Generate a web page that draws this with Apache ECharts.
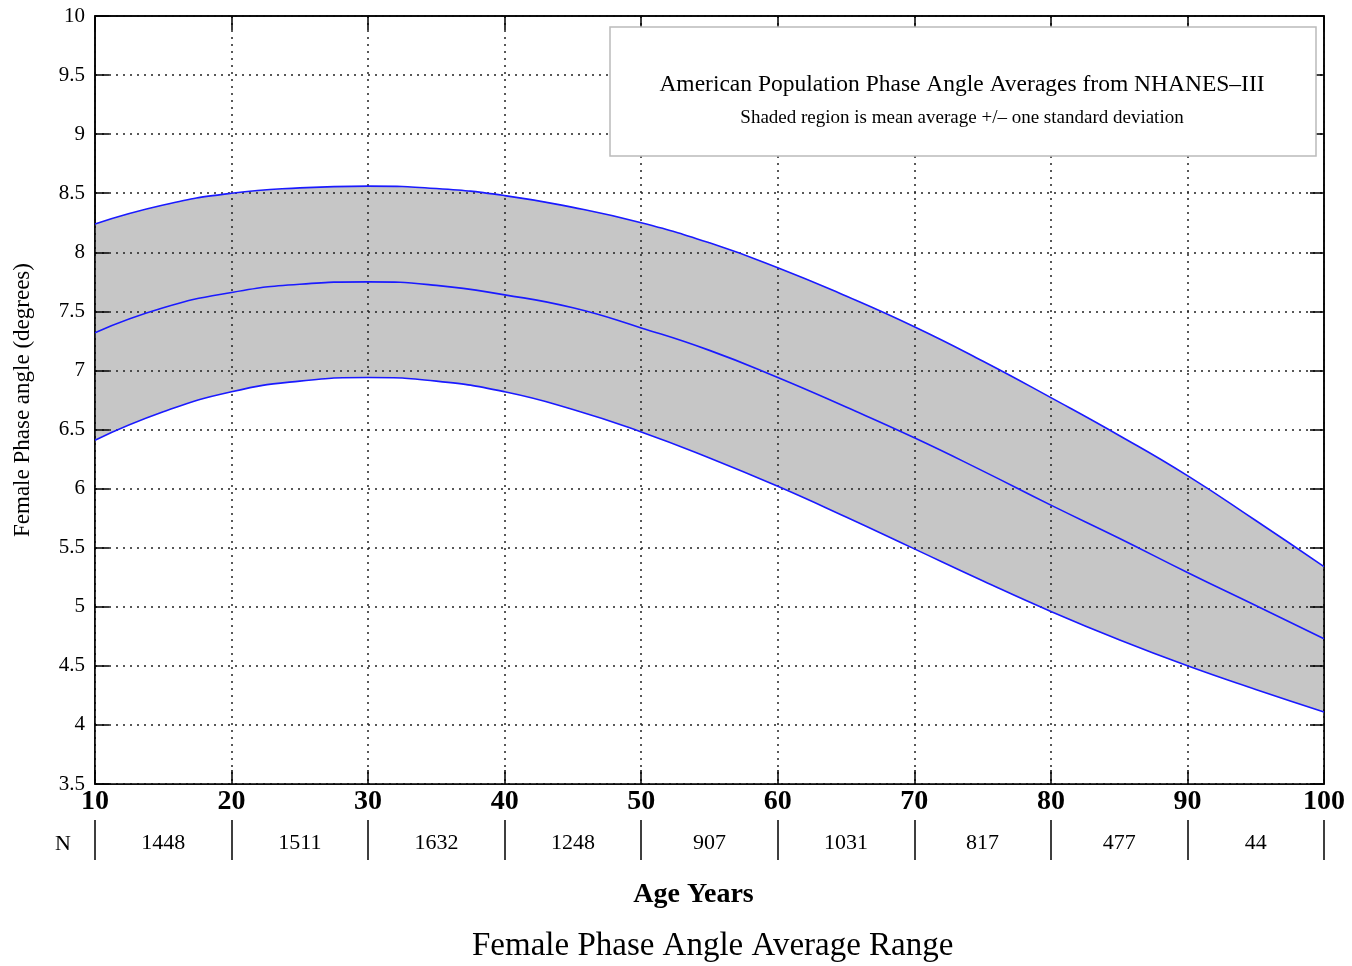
<!DOCTYPE html>
<html>
<head>
<meta charset="utf-8">
<script src="https://cdn.jsdelivr.net/npm/echarts@6/dist/echarts.min.js"></script>
<style>html,body{margin:0;padding:0;background:#fff;}#c{width:1352px;height:966px;}</style>
</head>
<body>
<div id="c"></div>
<script>
var ages    = [10, 15, 20, 25, 30, 35, 40, 45, 50, 55, 60, 65, 70, 75, 80, 85, 90, 95, 100];
var upperSD = [8.24, 8.40, 8.50, 8.545, 8.56, 8.54, 8.48, 8.38, 8.25, 8.08, 7.87, 7.63, 7.37, 7.08, 6.77, 6.45, 6.11, 5.73, 5.34];
var meanPA  = [7.32, 7.53, 7.66, 7.73, 7.75, 7.72, 7.64, 7.53, 7.36, 7.17, 6.94, 6.69, 6.43, 6.15, 5.86, 5.58, 5.29, 5.01, 4.73];
var lowerSD = [6.41, 6.65, 6.82, 6.91, 6.94, 6.91, 6.82, 6.67, 6.48, 6.26, 6.02, 5.76, 5.49, 5.22, 4.96, 4.72, 4.50, 4.30, 4.11];
var nCounts = ['1448', '1511', '1632', '1248', '907', '1031', '817', '477', '44'];
var yTicks = {min: 3.5, max: 10, step: 0.5};
var xTicks = {min: 10, max: 100, step: 10};

var FONT = '"Liberation Serif", "DejaVu Serif", serif';
function pairs(vals) { return ages.map(function (a, i) { return [a, vals[i]]; }); }

var dotted = {color: '#222', width: 1.5, type: [2, 5]};
var SM = 0.5;
var chart = echarts.init(document.getElementById('c'), null, {renderer: 'canvas'});
chart.setOption({
  animation: false,
  backgroundColor: '#fff',
  title: {
    text: 'Female Phase Angle Average Range',
    left: 467, top: 925,
    textStyle: {fontFamily: FONT, fontSize: 33, fontWeight: 'normal', color: '#000'}
  },
  grid: {left: 95, right: 28, top: 16, bottom: 182, show: true, borderColor: '#000', borderWidth: 1.5, backgroundColor: 'transparent'},
  xAxis: [
    {
      type: 'value', min: xTicks.min, max: xTicks.max, interval: xTicks.step, position: 'bottom', z: 3,
      name: 'Age Years', nameLocation: 'middle', nameGap: 97,
      nameTextStyle: {fontFamily: FONT, fontSize: 28, fontWeight: 'bold', color: '#000', padding: [0, 32, 0, 0]},
      axisLine: {show: true, lineStyle: {color: '#000', width: 1.5}},
      axisTick: {show: true, inside: true, length: 14, lineStyle: {color: '#000', width: 1.5}},
      axisLabel: {fontFamily: FONT, fontSize: 28, fontWeight: 'bold', color: '#000', margin: 4},
      splitLine: {show: true, lineStyle: dotted}
    },
    {
      type: 'value', min: xTicks.min, max: xTicks.max, interval: xTicks.step, position: 'top', z: 3,
      axisLine: {show: true, lineStyle: {color: '#000', width: 1.5}},
      axisTick: {show: true, inside: true, length: 14, lineStyle: {color: '#000', width: 1.5}},
      axisLabel: {show: false}, splitLine: {show: false}
    },
    {
      type: 'category', data: nCounts, boundaryGap: true, position: 'bottom', offset: 36, z: 3,
      name: 'N', nameLocation: 'start', nameGap: 24,
      nameTextStyle: {fontFamily: FONT, fontSize: 22, color: '#000', verticalAlign: 'top', padding: [13, 0, 0, 0]},
      axisLine: {show: false},
      axisTick: {show: true, inside: false, length: 40, interval: 0, lineStyle: {color: '#000', width: 1.5}},
      axisLabel: {fontFamily: FONT, fontSize: 22, color: '#000', margin: 12, interval: 0},
      splitLine: {show: false}
    }
  ],
  yAxis: [
    {
      type: 'value', min: yTicks.min, max: yTicks.max, interval: yTicks.step, position: 'left', z: 3,
      name: 'Female Phase angle (degrees)', nameLocation: 'middle', nameGap: 61,
      nameTextStyle: {fontFamily: FONT, fontSize: 23, color: '#000'},
      axisLine: {show: true, lineStyle: {color: '#000', width: 1.5}},
      axisTick: {show: true, inside: true, length: 14, lineStyle: {color: '#000', width: 1.5}},
      axisLabel: {fontFamily: FONT, fontSize: 21, color: '#000', margin: 10},
      splitLine: {show: true, lineStyle: dotted}
    },
    {
      type: 'value', min: yTicks.min, max: yTicks.max, interval: yTicks.step, position: 'right', z: 3,
      axisLine: {show: true, lineStyle: {color: '#000', width: 1.5}},
      axisTick: {show: true, inside: true, length: 14, lineStyle: {color: '#000', width: 1.5}},
      axisLabel: {show: false}, splitLine: {show: false}
    }
  ],
  series: [
    {type: 'line', name: 'bandTop', data: pairs(upperSD), smooth: SM, symbol: 'none',
     lineStyle: {opacity: 0}, areaStyle: {color: '#c6c6c6', opacity: 1, origin: 'start'}, z: 1, silent: true},
    {type: 'line', name: 'bandBottom', data: pairs(lowerSD), smooth: SM, symbol: 'none',
     lineStyle: {opacity: 0}, areaStyle: {color: '#ffffff', opacity: 1, origin: 'start'}, z: 1, silent: true},
    {type: 'line', name: 'upper', data: pairs(upperSD), smooth: SM, symbol: 'none', z: 5,
     lineStyle: {color: '#1a1aff', width: 1.6}},
    {type: 'line', name: 'mean', data: pairs(meanPA), smooth: SM, symbol: 'none', z: 5,
     lineStyle: {color: '#1a1aff', width: 1.6}},
    {type: 'line', name: 'lower', data: pairs(lowerSD), smooth: SM, symbol: 'none', z: 5,
     lineStyle: {color: '#1a1aff', width: 1.6}}
  ],
  graphic: {
    elements: [
      {type: 'rect', z: 100, shape: {x: 610, y: 27, width: 706, height: 129},
       style: {fill: '#fff', stroke: '#bbbbbb', lineWidth: 1.5}},
      {type: 'text', z: 101, x: 962, y: 85,
       style: {text: 'American Population Phase Angle Averages from NHANES\u2013III', fill: '#000',
               fontFamily: 'Liberation Serif', fontSize: 23.5, align: 'center', verticalAlign: 'middle'}},
      {type: 'text', z: 101, x: 962, y: 118,
       style: {text: 'Shaded region is mean average +/\u2013 one standard deviation', fill: '#000',
               fontFamily: 'Liberation Serif', fontSize: 19, align: 'center', verticalAlign: 'middle'}}
    ]
  }
});
</script>
</body>
</html>
